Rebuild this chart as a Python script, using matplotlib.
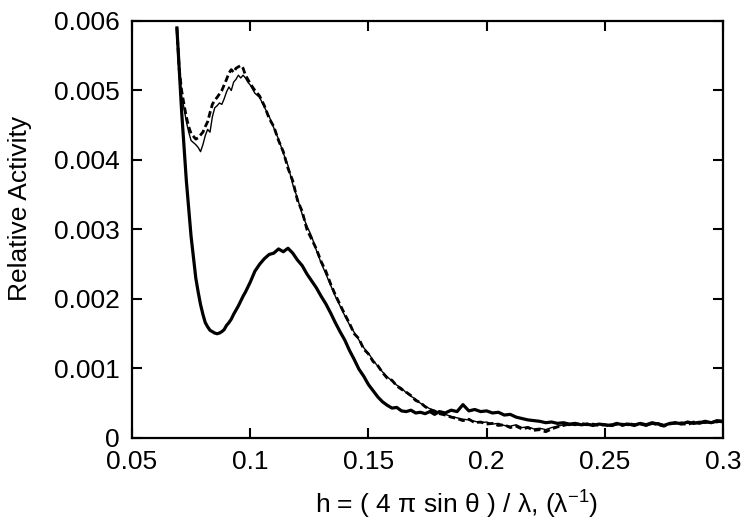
import matplotlib
matplotlib.use("Agg")
import matplotlib.pyplot as plt

plt.rcParams['font.family'] = ['Liberation Sans', 'DejaVu Sans']
plt.rcParams['mathtext.fontset'] = 'custom'
plt.rcParams['mathtext.rm'] = 'Liberation Sans'
plt.rcParams['mathtext.default'] = 'regular'

h = [0.069, 0.070, 0.071, 0.072, 0.073, 0.074, 0.075, 0.076, 0.077, 0.078,
     0.079, 0.080, 0.081, 0.082, 0.083, 0.084, 0.085, 0.086, 0.087, 0.088,
     0.089, 0.090, 0.091, 0.092, 0.093, 0.094, 0.095, 0.096, 0.097, 0.098,
     0.099, 0.100,
     0.102, 0.104, 0.106, 0.108, 0.110, 0.112, 0.114, 0.116, 0.118, 0.120,
     0.122, 0.124, 0.126, 0.128, 0.130, 0.132, 0.134, 0.136, 0.138, 0.140,
     0.142, 0.144, 0.146, 0.148, 0.150, 0.152, 0.154, 0.156, 0.158, 0.160,
     0.162, 0.164, 0.166, 0.168, 0.170, 0.172, 0.174, 0.176, 0.178,
     0.1800, 0.1825, 0.1850, 0.1875, 0.1900, 0.1925, 0.1950, 0.1975, 0.2000,
     0.2025, 0.2050, 0.2075, 0.2100, 0.2125, 0.2150, 0.2175, 0.2200, 0.2225,
     0.2250, 0.2275, 0.2300, 0.2325, 0.2350, 0.2375, 0.2400, 0.2425, 0.2450,
     0.2475, 0.2500, 0.2525, 0.2550, 0.2575, 0.2600, 0.2625, 0.2650, 0.2675,
     0.2700, 0.2725, 0.2750, 0.2775, 0.2800, 0.2825, 0.2850, 0.2875, 0.2900,
     0.2925, 0.2950, 0.2975, 0.3000]

thick = [0.0059, 0.0053, 0.0047, 0.0042, 0.0037, 0.0033, 0.0029, 0.0026, 0.0023, 0.0021,
         0.00192, 0.00178, 0.00166, 0.00160, 0.00155, 0.00153, 0.00151, 0.00150, 0.00151, 0.00153,
         0.00156, 0.00162, 0.00166, 0.00171, 0.00178, 0.00184, 0.00190, 0.00197, 0.00204, 0.00210,
         0.00217, 0.00224,
         0.00240, 0.00250, 0.00258, 0.00264, 0.00266, 0.00272, 0.00268, 0.00273, 0.00266, 0.00256,
         0.00248, 0.00236, 0.00226, 0.00216, 0.00204, 0.00193, 0.00180, 0.00166, 0.00153, 0.00141,
         0.00126, 0.00113, 0.00099, 0.00089, 0.00077, 0.00068, 0.00059, 0.00052, 0.00047, 0.00043,
         0.00044, 0.00039, 0.00038, 0.00040, 0.00036, 0.00037, 0.00035, 0.00038, 0.00034,
         0.00038, 0.00036, 0.00040, 0.00038, 0.00048, 0.00039, 0.00041, 0.00038, 0.00039,
         0.00036, 0.00037, 0.00033, 0.00034, 0.00030, 0.00028, 0.00026, 0.00025, 0.00024,
         0.00022, 0.00023, 0.00021, 0.00022, 0.00020, 0.00021, 0.00019, 0.00020, 0.00018,
         0.00020, 0.00019, 0.00018, 0.00021, 0.00019, 0.00020, 0.00018, 0.00021, 0.00019,
         0.00022, 0.00020, 0.00018, 0.00021, 0.00022, 0.00020, 0.00023, 0.00021, 0.00022,
         0.00024, 0.00022, 0.00025, 0.00024]

thin = [0.0059, 0.0052, 0.0049, 0.00475, 0.00455, 0.00440, 0.00428, 0.00425, 0.00422, 0.00418,
        0.00412, 0.00422, 0.00435, 0.00444, 0.00440, 0.00462, 0.00475, 0.00478, 0.00482, 0.00480,
        0.00488, 0.00498, 0.00505, 0.00500, 0.00512, 0.00516, 0.00522, 0.00518, 0.00522, 0.00518,
        0.00512, 0.00508,
        0.00496, 0.00490, 0.00476, 0.00463, 0.00446, 0.00430, 0.00410, 0.00392, 0.00365, 0.00345,
        0.00322, 0.00305, 0.00290, 0.00270, 0.00252, 0.00236, 0.00220, 0.00204, 0.00190, 0.00176,
        0.00163, 0.00152, 0.00141, 0.00130, 0.00122, 0.00112, 0.00103, 0.00095, 0.00088, 0.00082,
        0.00076, 0.00072, 0.00065, 0.00060, 0.00056, 0.00050, 0.00046, 0.00042, 0.00040,
        0.00036, 0.00034, 0.00031, 0.00029, 0.00027, 0.00026, 0.00024, 0.00022, 0.00023,
        0.00020, 0.00021, 0.00018, 0.00017, 0.00019, 0.00015, 0.00016, 0.00013, 0.00014,
        0.00012, 0.00015, 0.00017, 0.00019, 0.00018, 0.00020, 0.00019, 0.00021, 0.00019,
        0.00020, 0.00018, 0.00020, 0.00019, 0.00021, 0.00018, 0.00020, 0.00022, 0.00017,
        0.00020, 0.00022, 0.00019, 0.00021, 0.00020, 0.00023, 0.00021, 0.00022, 0.00024,
        0.00021, 0.00023, 0.00022, 0.00025]

dashed = [0.0059, 0.0053, 0.0050, 0.0048, 0.00462, 0.00448, 0.00438, 0.00434, 0.00430, 0.00432,
          0.00436, 0.00440, 0.00448, 0.00455, 0.00468, 0.00480, 0.00486, 0.00490, 0.00495, 0.00500,
          0.00508, 0.00516, 0.00525, 0.00530, 0.00526, 0.00532, 0.00534, 0.00536, 0.00532, 0.00522,
          0.00516, 0.00510,
          0.00500, 0.00492, 0.00478, 0.00460, 0.00448, 0.00428, 0.00412, 0.00388, 0.00370, 0.00342,
          0.00326, 0.00300, 0.00286, 0.00272, 0.00254, 0.00240, 0.00222, 0.00206, 0.00192, 0.00178,
          0.00165, 0.00150, 0.00143, 0.00128, 0.00121, 0.00110, 0.00104, 0.00094, 0.00086, 0.00083,
          0.00075, 0.00070, 0.00066, 0.00061, 0.00054, 0.00051, 0.00045, 0.00041, 0.00038,
          0.00035, 0.00033, 0.00030, 0.00028, 0.00025, 0.00027, 0.00022, 0.00023, 0.00020,
          0.00021, 0.00018, 0.00019, 0.00015, 0.00017, 0.00013, 0.00015, 0.00011, 0.00012,
          0.00009, 0.00013, 0.00016, 0.00018, 0.00020, 0.00019, 0.00021, 0.00019, 0.00020,
          0.00018, 0.00019, 0.00017, 0.00020, 0.00018, 0.00021, 0.00019, 0.00020, 0.00018,
          0.00021, 0.00019, 0.00017, 0.00020, 0.00022, 0.00021, 0.00019, 0.00023, 0.00021,
          0.00023, 0.00022, 0.00024, 0.00023]

xticks = [0.05, 0.1, 0.15, 0.2, 0.25, 0.3]
xticklabels = ["0.05", "0.1", "0.15", "0.2", "0.25", "0.3"]
yticks = [0, 0.001, 0.002, 0.003, 0.004, 0.005, 0.006]
yticklabels = ["0", "0.001", "0.002", "0.003", "0.004", "0.005", "0.006"]

fig = plt.figure(figsize=(7.49, 5.27), dpi=100)
ax = fig.add_axes([0.1762, 0.1689, 0.7891, 0.7913])

ax.plot(h, dashed, color='black', lw=2.0, linestyle=(0, (2.4, 1.2)))
ax.plot(h, thin, color='black', lw=1.0)
ax.plot(h, thick, color='black', lw=2.3)

ax.set_xlim(0.05, 0.3)
ax.set_ylim(0, 0.006)
ax.set_xticks(xticks)
ax.set_xticklabels(xticklabels)
ax.set_yticks(yticks)
ax.set_yticklabels(yticklabels)
ax.tick_params(direction='in', top=True, right=True, length=7, width=1.5,
               labelsize=19, colors='black')
ax.tick_params(axis='x', pad=9)
ax.tick_params(axis='y', pad=9)
for s in ax.spines.values():
    s.set_linewidth(1.6)

fig.text(457 / 749, 1 - 505 / 527,
         "h = ( 4 \u03c0 sin \u03b8 ) / \u03bb, (\u03bb$^{-1}$)",
         ha='center', va='center', fontsize=19)
fig.text(20 / 749, 1 - 208 / 527, "Relative Activity", rotation=90,
         ha='center', va='center', fontsize=19)

fig.savefig("out.png", dpi=100)
